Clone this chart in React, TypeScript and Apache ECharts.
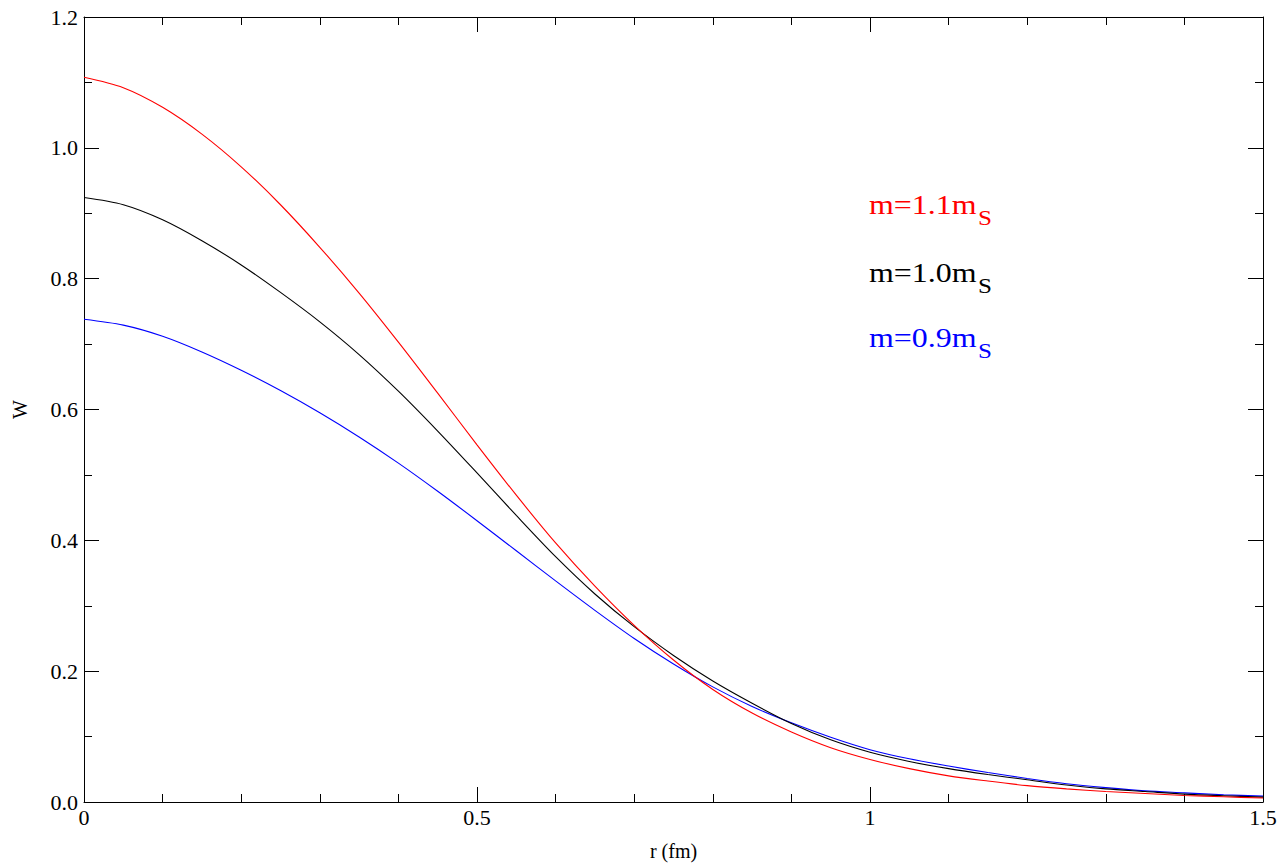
import React, { useEffect, useRef } from "react";
import * as echarts from "echarts";

const rValues = [
  0, 0.05, 0.1, 0.15, 0.2, 0.25, 0.3, 0.35, 0.4, 0.45, 0.5, 0.55, 0.6, 0.65, 0.7, 0.75,
  0.8, 0.85, 0.9, 0.95, 1.0, 1.05, 1.1, 1.15, 1.2, 1.25, 1.3, 1.35, 1.4, 1.45, 1.5,
];

const wRed = [
  1.108, 1.092, 1.062, 1.021, 0.971, 0.913, 0.848, 0.778, 0.703, 0.625, 0.546, 0.469, 0.396,
  0.33, 0.27, 0.217, 0.172, 0.136, 0.107, 0.083, 0.065, 0.051, 0.04, 0.032, 0.025, 0.02,
  0.016, 0.013, 0.01, 0.008, 0.006,
];

const wBlack = [
  0.924, 0.913, 0.89, 0.858, 0.821, 0.779, 0.734, 0.684, 0.628, 0.567, 0.503, 0.438, 0.375,
  0.318, 0.268, 0.224, 0.185, 0.151, 0.12, 0.095, 0.076, 0.062, 0.051, 0.042, 0.034,
  0.026, 0.02, 0.016, 0.012, 0.0095, 0.0075,
];

const wBlue = [
  0.738, 0.729, 0.712, 0.688, 0.66, 0.629, 0.595, 0.558, 0.518, 0.475, 0.43, 0.384,
  0.338, 0.293, 0.25, 0.211, 0.176, 0.146, 0.121, 0.099, 0.08, 0.066, 0.055, 0.045, 0.036,
  0.028, 0.022, 0.017, 0.014, 0.011, 0.009,
];

const seriesNames = ["m=1.1m", "m=1.0m", "m=0.9m"];
const seriesColors = ["#ff0000", "#000000", "#0000ff"];
const xTickLabels: Record<string, string> = { "0": "0", "0.5": "0.5", "1": "1", "1.5": "1.5" };

const FONT = "Liberation Serif";

export default function App() {
  const ref = useRef<HTMLDivElement>(null);

  useEffect(() => {
    if (!ref.current) return;
    const chart = echarts.init(ref.current, undefined, { renderer: "svg" });
    const allW = [wRed, wBlack, wBlue];

    const axisCommon = {
      axisLine: { show: true, onZero: false, lineStyle: { color: "#000", width: 1 } },
      axisTick: { show: true, inside: true, length: 15, lineStyle: { color: "#000", width: 1 } },
      minorTick: { show: true, length: 8, lineStyle: { color: "#000", width: 1 } },
      splitLine: { show: false },
    };

    const legendBaseY = [204, 272, 337];
    const graphics: any[] = [];
    seriesNames.forEach((name, i) => {
      graphics.push({
        type: "text",
        x: 869,
        y: legendBaseY[i],
        scaleX: 1.14,
        style: {
          text: name,
          fill: seriesColors[i],
          fontFamily: FONT,
          fontSize: 28,
          textAlign: "left",
          textVerticalAlign: "middle",
        },
      });
      graphics.push({
        type: "text",
        x: 978,
        y: legendBaseY[i] + 14,
        scaleX: 1.14,
        style: {
          text: "S",
          fill: seriesColors[i],
          fontFamily: FONT,
          fontSize: 22,
          textAlign: "left",
          textVerticalAlign: "middle",
        },
      });
    });

    chart.setOption({
      animation: false,
      backgroundColor: "#fff",
      textStyle: { fontFamily: FONT },
      grid: { left: 84, right: 20, top: 17, bottom: 63, containLabel: false },
      xAxis: [
        {
          type: "value",
          min: 0,
          max: 1.5,
          interval: 0.5,
          position: "bottom",
          name: "r (fm)",
          nameLocation: "middle",
          nameGap: 39,
          nameTextStyle: { color: "#000", fontSize: 20, fontFamily: FONT },
          ...axisCommon,
          minorTick: { ...axisCommon.minorTick, splitNumber: 5 },
          axisLabel: {
            show: true,
            color: "#000",
            fontSize: 22,
            fontFamily: FONT,
            margin: 4,
            formatter: (v: number) => xTickLabels[String(v)] ?? String(v),
          },
        },
        {
          type: "value",
          min: 0,
          max: 1.5,
          interval: 0.5,
          position: "top",
          ...axisCommon,
          minorTick: { ...axisCommon.minorTick, splitNumber: 5 },
          axisLabel: { show: false },
        },
      ],
      yAxis: [
        {
          type: "value",
          min: 0,
          max: 1.2,
          interval: 0.2,
          position: "left",
          name: "W",
          nameLocation: "middle",
          nameRotate: 90,
          nameGap: 54,
          nameTextStyle: { color: "#000", fontSize: 20, fontFamily: FONT },
          ...axisCommon,
          minorTick: { ...axisCommon.minorTick, splitNumber: 2 },
          axisLabel: {
            show: true,
            color: "#000",
            fontSize: 22,
            fontFamily: FONT,
            margin: 6,
            formatter: (v: number) => v.toFixed(1),
          },
        },
        {
          type: "value",
          min: 0,
          max: 1.2,
          interval: 0.2,
          position: "right",
          ...axisCommon,
          minorTick: { ...axisCommon.minorTick, splitNumber: 2 },
          axisLabel: { show: false },
        },
      ],
      series: allW.map((w, i) => ({
        name: seriesNames[i],
        type: "line",
        xAxisIndex: 0,
        yAxisIndex: 0,
        data: rValues.map((r, k) => [r, w[k]]),
        showSymbol: false,
        smooth: 0.3,
        lineStyle: { color: seriesColors[i], width: 1.1 },
        z: 3 - i,
      })),
      graphic: graphics,
    });

    return () => chart.dispose();
  }, []);

  return (
    <div
      ref={ref}
      style={{ position: "fixed", left: 0, top: 0, width: 1283, height: 866, background: "#fff" }}
    />
  );
}
